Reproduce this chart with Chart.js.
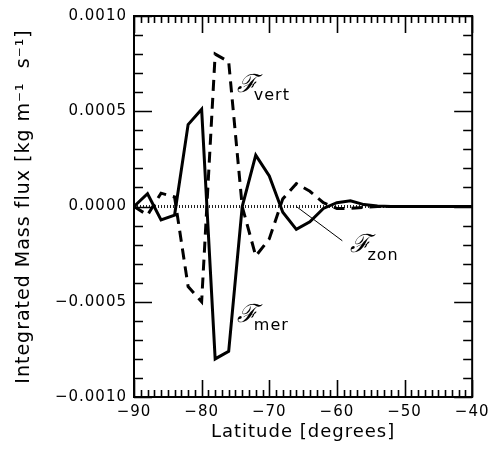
<!DOCTYPE html>
<html>
<head>
<meta charset="utf-8">
<script src="https://cdn.jsdelivr.net/npm/chart.js@4/dist/chart.umd.min.js"></script>
<style>
	body { margin: 0; background: #fff; }
	#chartContainer { width: 494px; height: 452px; }
</style>
</head>
<body>
<div id="chartContainer">
	<canvas id="fluxChart" width="494" height="452"></canvas>
</div>
<script>
// latitude grid (degrees), every 2 degrees
const latitudes = [-90,-88,-86,-84,-82,-80,-78,-76,-74,-72,-70,-68,-66,-64,-62,-60,-58,-56,-54,-52,-50,-48,-46,-44,-42,-40];

// integrated mass flux [kg m-1 s-1]
const fluxMer  = [0, 0.000067, -0.00007, -0.000045, 0.00043, 0.00051, -0.0008, -0.00076, 0, 0.00027, 0.00016, -0.00003, -0.00012, -0.00008, -0.00001, 0.00002, 0.00003, 0.00001, 0.000003, 0, 0, 0, 0, 0, 0, 0];
const fluxVert = [0, -0.000045, 0.00007, 0.00005, -0.00042, -0.0005, 0.0008, 0.00076, 0, -0.00026, -0.00017, 0.00004, 0.00012, 0.00008, 0.00002, -0.00001, -0.00001, -0.000005, 0, 0, 0, 0, 0, 0, 0, 0];
const fluxZon  = [0, 0, 0, 0, 0, 0, 0, 0, 0, 0, 0, 0, 0, 0, 0, 0, 0, 0, 0, 0, 0, 0, 0, 0, 0, 0];

const xTicks = [-90, -80, -70, -60, -50, -40];
const yTicks = [-0.001, -0.0005, 0, 0.0005, 0.001];
const xTitle = "Latitude [degrees]";
const yTitle = "Integrated Mass flux [kg m\u207B\u00B9  s\u207B\u00B9]";

// curve labels, in data coordinates
const curveLabels = [
	{ sub: "vert", lat: -74.8, val: 0.0006 },
	{ sub: "mer", lat: -74.8, val: -0.000605 },
	{ sub: "zon", lat: -58.0, val: -0.00024 }
];
const zonPointer = [[-66, 0], [-59.2, -0.00018]];

const FONT = "'DejaVu Sans', sans-serif";

function toPoints(values){
	return latitudes.map((lat, i) => ({ x: lat, y: values[i] }));
}

function minus(str){
	return str.replace("-", "\u2212");
}

// frame with inward ticks, IDL style
const framePlugin = {
	id: "frame",
	beforeDraw(chart){
		chart.ctx.letterSpacing = "1px";
	},
	afterDraw(chart){
		const ctx = chart.ctx;
		const a = chart.chartArea;
		const xs = chart.scales.x, ys = chart.scales.y;
		ctx.save();
		ctx.strokeStyle = "#000";
		ctx.lineWidth = 2;
		ctx.strokeRect(a.left, a.top, a.right - a.left, a.bottom - a.top);
		ctx.lineWidth = 1.6;
		ctx.beginPath();
		for (let d = -90; d <= -40; d++){
			const px = Math.round(xs.getPixelForValue(d)) + 0.5;
			const len = (d % 10 == 0) ? 17 : 7;
			ctx.moveTo(px, a.bottom); ctx.lineTo(px, a.bottom - len);
			ctx.moveTo(px, a.top); ctx.lineTo(px, a.top + len);
		}
		for (let k = -10; k <= 10; k++){
			const py = Math.round(ys.getPixelForValue(k * 0.0001)) + 0.5;
			const len = (k % 5 == 0) ? 18 : 9;
			ctx.moveTo(a.left, py); ctx.lineTo(a.left + len, py);
			ctx.moveTo(a.right, py); ctx.lineTo(a.right - len, py);
		}
		ctx.stroke();

		// pointer to the zonal curve
		ctx.lineWidth = 1;
		ctx.beginPath();
		ctx.moveTo(xs.getPixelForValue(zonPointer[0][0]), ys.getPixelForValue(zonPointer[0][1]));
		ctx.lineTo(xs.getPixelForValue(zonPointer[1][0]), ys.getPixelForValue(zonPointer[1][1]));
		ctx.stroke();

		ctx.fillStyle = "#000";
		ctx.textBaseline = "alphabetic";
		ctx.textAlign = "left";
		curveLabels.forEach(function(lbl){
			const px = xs.getPixelForValue(lbl.lat);
			const py = ys.getPixelForValue(lbl.val);
			ctx.letterSpacing = "0px";
			ctx.font = "italic 25px 'DejaVu Serif', serif";
			ctx.fillText("\u2131", px, py);
			ctx.letterSpacing = "1px";
			ctx.font = "16px " + FONT;
			ctx.fillText(lbl.sub, px + 17, py + 8);
		});
		ctx.restore();
	}
};

new Chart(document.getElementById("fluxChart"), {
	type: "line",
	data: {
		datasets: [
			{
				label: "mer",
				data: toPoints(fluxMer),
				borderColor: "#000",
				borderWidth: 3,
				borderJoinStyle: "miter",
				pointRadius: 0,
				tension: 0
			},
			{
				label: "vert",
				data: toPoints(fluxVert),
				borderColor: "#000",
				borderWidth: 3,
				borderDash: [11, 7],
				borderJoinStyle: "miter",
				pointRadius: 0,
				tension: 0
			},
			{
				label: "zon",
				data: toPoints(fluxZon),
				borderColor: "#222",
				borderWidth: 3,
				borderDash: [1, 2],
				pointRadius: 0,
				tension: 0
			}
		]
	},
	options: {
		responsive: false,
		animation: false,
		layout: { padding: { top: 12, right: 18, left: 0, bottom: 0 } },
		plugins: {
			legend: { display: false },
			tooltip: { enabled: false }
		},
		scales: {
			x: {
				type: "linear",
				min: -90,
				max: -40,
				afterBuildTicks: function(scale){ scale.ticks = xTicks.map(v => ({ value: v })); },
				afterFit: function(scale){ scale.height = 55; },
				grid: { display: false, drawTicks: false },
				border: { display: false },
				ticks: {
					padding: 6,
					color: "#000",
					maxRotation: 0,
					font: { family: FONT, size: 15 },
					callback: v => minus(String(v))
				},
				title: {
					display: true,
					text: xTitle,
					color: "#000",
					font: { family: FONT, size: 18 },
					padding: { top: 0, bottom: 9 }
				}
			},
			y: {
				min: -0.001,
				max: 0.001,
				afterBuildTicks: function(scale){ scale.ticks = yTicks.map(v => ({ value: v })); },
				afterFit: function(scale){ scale.width = 134; },
				grid: { display: false, drawTicks: false },
				border: { display: false },
				ticks: {
					padding: 7,
					color: "#000",
					font: { family: FONT, size: 15 },
					callback: v => Math.abs(v) < 1e-12 ? "0.0000" : minus(v.toFixed(4))
				},
				title: {
					display: true,
					text: yTitle,
					color: "#000",
					font: { family: FONT, size: 19 },
					padding: { top: 13, bottom: 0 }
				}
			}
		}
	},
	plugins: [framePlugin]
});
</script>
</body>
</html>
